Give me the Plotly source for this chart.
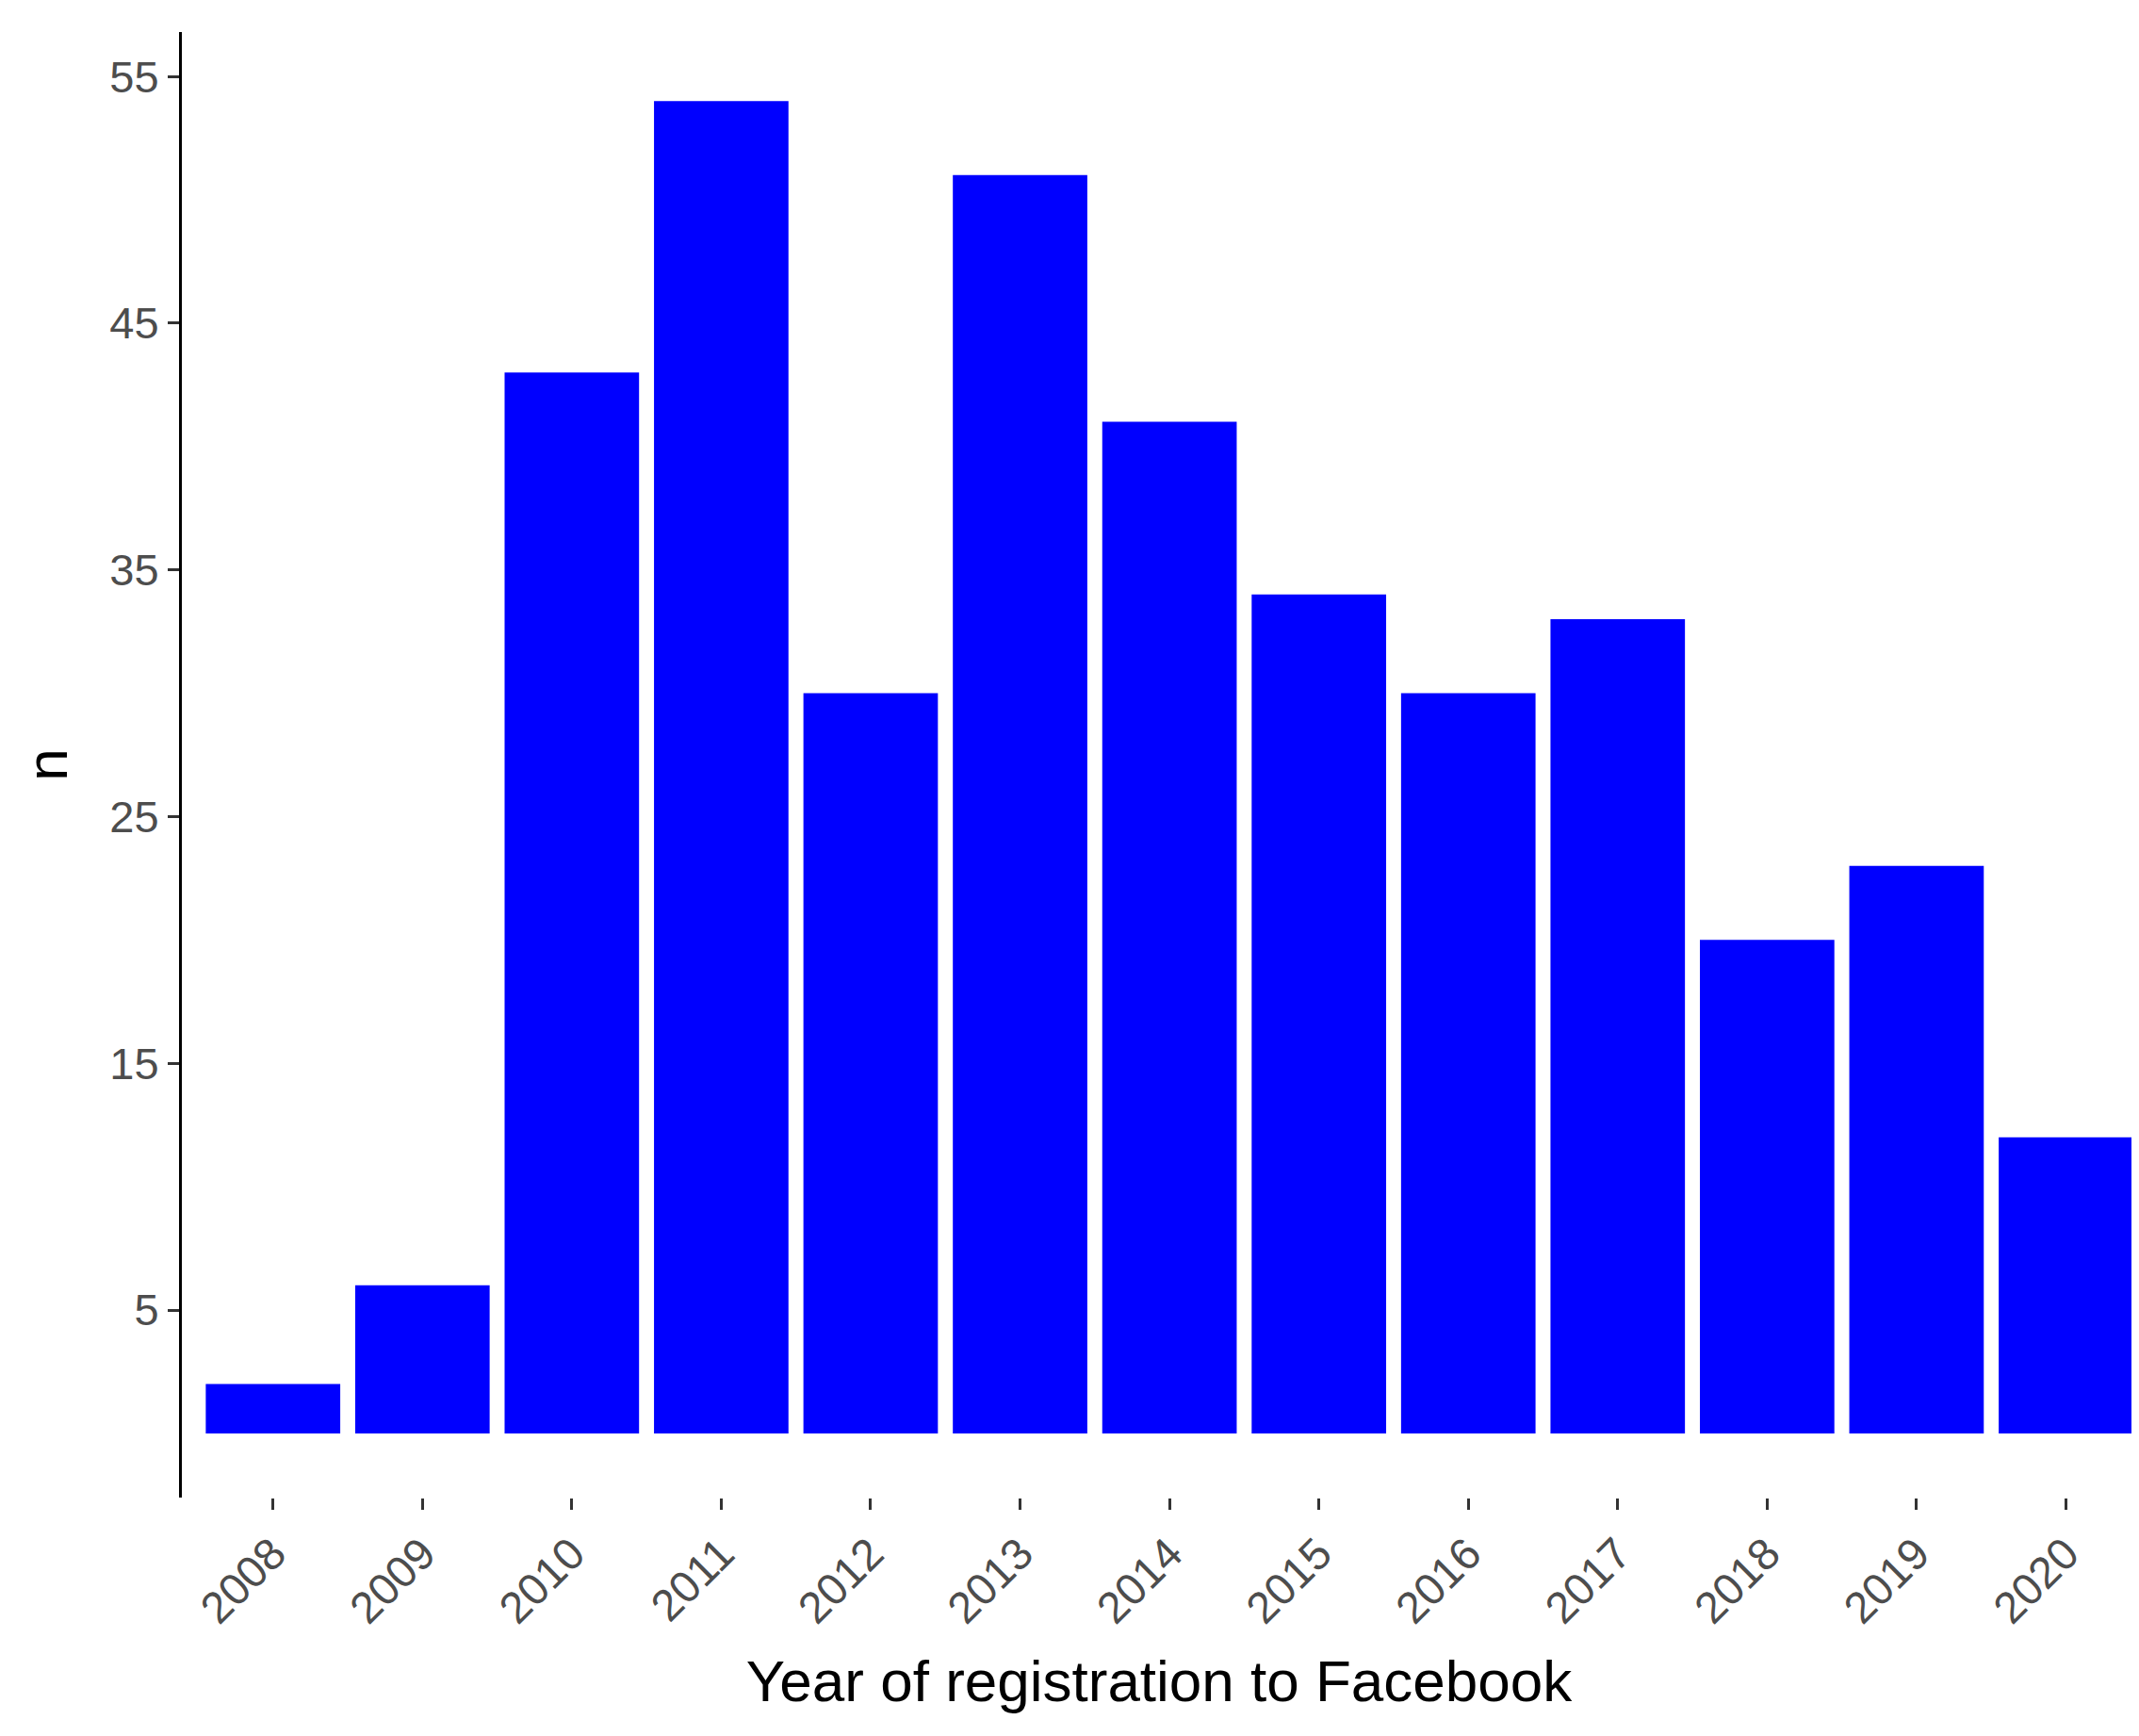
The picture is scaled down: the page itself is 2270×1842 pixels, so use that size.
import plotly.graph_objects as go

years = ["2008", "2009", "2010", "2011", "2012", "2013", "2014",
         "2015", "2016", "2017", "2018", "2019", "2020"]
counts = [2, 6, 43, 54, 30, 51, 41, 34, 30, 33, 20, 23, 12]
y_ticks = [5, 15, 25, 35, 45, 55]

fig = go.Figure(go.Bar(x=years, y=counts, marker_color="#0000FF",
                       marker_line_width=0, width=0.9))

fig.update_layout(
    width=2270, height=1842,
    margin=dict(l=185, r=11, t=26, b=261),
    plot_bgcolor="white", paper_bgcolor="white",
    font=dict(family="Liberation Sans, Arial", color="black"),
    showlegend=False,
)
fig.update_xaxes(
    type="category", range=[-0.61, 12.47],
    showgrid=False, showline=False, zeroline=False,
    ticks="outside", ticklen=12, tickwidth=3, tickcolor="#333333",
    tickangle=-45, tickfont=dict(size=47, color="#4d4d4d"),
    title=dict(text="Year of registration to Facebook", font=dict(size=62), standoff=30),
)
fig.update_yaxes(
    range=[-2.6, 56.8], tickvals=y_ticks,
    showgrid=False, zeroline=False,
    showline=True, linecolor="black", linewidth=3,
    ticks="outside", ticklen=12, tickwidth=3, tickcolor="#333333",
    tickfont=dict(size=47, color="#4d4d4d"),
    title=dict(text="n", font=dict(size=62), standoff=25),
)

fig.write_html("out.html")
